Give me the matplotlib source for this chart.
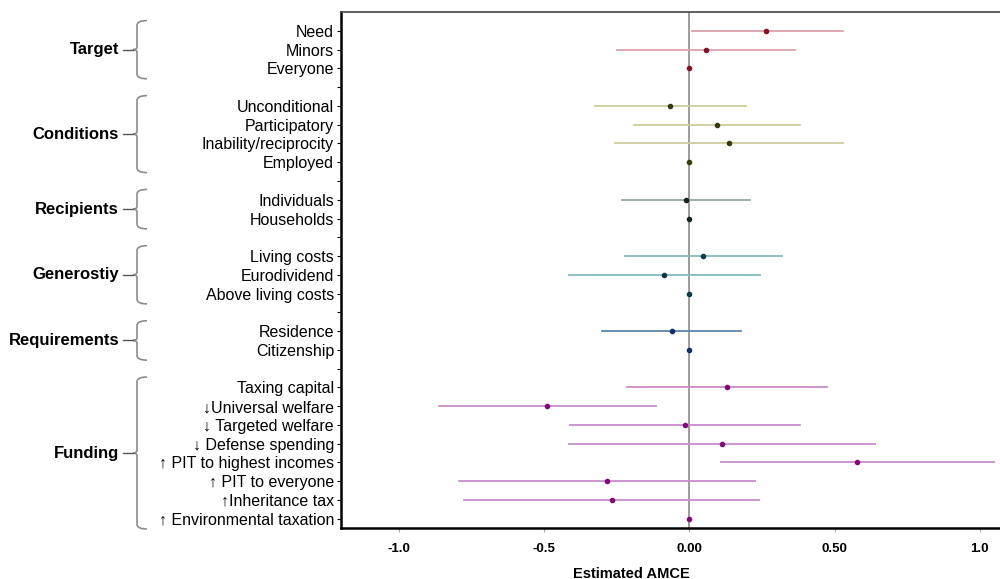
import matplotlib.pyplot as plt
from matplotlib.path import Path
from matplotlib.patches import PathPatch
from matplotlib.transforms import blended_transform_factory

plt.rcParams['font.family'] = ['Liberation Sans', 'DejaVu Sans']

# groups, labels and estimates (AMCE with 95% CI)
groups = ['Target', 'Conditions', 'Recipients', 'Generostiy', 'Requirements', 'Funding']
labels = [
    ['Need', 'Minors', 'Everyone'],
    ['Unconditional', 'Participatory', 'Inability/reciprocity', 'Employed'],
    ['Individuals', 'Households'],
    ['Living costs', 'Eurodividend', 'Above living costs'],
    ['Residence', 'Citizenship'],
    ['Taxing capital', '\u2193Universal welfare', '\u2193 Targeted welfare', '\u2193 Defense spending',
     '\u2191 PIT to highest incomes', '\u2191 PIT to everyone', '\u2191Inheritance tax',
     '\u2191 Environmental taxation'],
]
est = [
    [0.265, 0.057, 0.0],
    [-0.066, 0.096, 0.136, 0.0],
    [-0.011, 0.0],
    [0.048, -0.087, 0.0],
    [-0.060, 0.0],
    [0.131, -0.490, -0.014, 0.111, 0.578, -0.284, -0.268, 0.0],
]
lo = [
    [0.010, -0.249, 0.0],
    [-0.326, -0.190, -0.258, 0.0],
    [-0.232, 0.0],
    [-0.221, -0.416, 0.0],
    [-0.301, 0.0],
    [-0.216, -0.863, -0.412, -0.416, 0.108, -0.793, -0.776, 0.0],
]
hi = [
    [0.530, 0.362, 0.0],
    [0.195, 0.382, 0.529, 0.0],
    [0.210, 0.0],
    [0.318, 0.244, 0.0],
    [0.179, 0.0],
    [0.475, -0.116, 0.382, 0.638, 1.050, 0.226, 0.240, 0.0],
]
line_colors = ['#dba3ad', '#cdcc9e', '#8fa8a2', '#86bcbc', '#5f84ad', '#c98ccb']
dot_colors = ['#8a1025', '#3a3a12', '#142424', '#0c3a48', '#10306a', '#820a78']

fig = plt.figure(figsize=(10, 5.79), dpi=100)
ax = fig.add_axes([0.341, 0.088, 0.662, 0.891])

ticks, ticklabels, spans = [], [], []
pos = 0
for g in range(len(groups)):
    start = pos
    for i in range(len(labels[g])):
        ax.plot([lo[g][i], hi[g][i]], [pos, pos], color=line_colors[g], lw=1.3, zorder=2)
        ax.plot(est[g][i], pos, 'o', color=dot_colors[g], ms=3.0, zorder=3)
        ticks.append(pos)
        ticklabels.append(labels[g][i])
        pos += 1
    spans.append((start, pos - 1))
    if g < len(groups) - 1:
        ticks.append(pos)
        ticklabels.append('')
        pos += 1

ax.axvline(0, color='#8a8a8a', lw=1.2, zorder=1)
ax.set_ylim(pos - 0.5, -1)
ax.set_xlim(-1.2, 1.08)
ax.set_yticks(ticks)
ax.set_yticklabels(ticklabels, fontsize=11.5)
ax.set_xticks([-1.0, -0.5, 0.0, 0.5, 1.0])
ax.set_xticklabels(['-1.0', '-0.5', '0.00', '0.50', '1.0'], fontsize=9.5, fontweight='bold')
ax.tick_params(axis='y', length=3, width=0.8, pad=2)
ax.tick_params(axis='x', length=3, width=0.8, pad=8, color='#aaaaaa')
ax.set_xlabel('Estimated AMCE', fontsize=10.5, fontweight='bold', labelpad=6)
ax.xaxis.set_label_coords(0.438, -0.075)
ax.spines['right'].set_visible(False)
ax.spines['left'].set_linewidth(1.8)
ax.spines['bottom'].set_linewidth(1.8)
ax.spines['top'].set_linewidth(1.2)
ax.spines['top'].set_color('#444444')

# curly brackets and group names on the left
tr = blended_transform_factory(fig.transFigure, ax.transData)
xl, xr, xc = 0.137, 0.147, 0.129
for g, (a, b) in enumerate(spans):
    top, bot = a - 0.55, b + 0.55
    mid = (top + bot) / 2
    verts = [(xr, top), (xl, top), (xl, top + 0.25),
             (xl, mid - 0.15), (xl, mid), (xc + 0.004, mid),
             (xl, mid), (xl, mid + 0.15),
             (xl, bot - 0.25), (xl, bot), (xr, bot)]
    codes = [Path.MOVETO, Path.CURVE3, Path.CURVE3,
             Path.LINETO, Path.CURVE3, Path.CURVE3,
             Path.CURVE3, Path.CURVE3,
             Path.LINETO, Path.CURVE3, Path.CURVE3]
    patch = PathPatch(Path(verts, codes), transform=tr, fill=False,
                      edgecolor='#8c8c8c', lw=1.2, clip_on=False)
    fig.add_artist(patch)
    fig.add_artist(plt.Line2D([xc - 0.006, xc + 0.004], [mid, mid], transform=tr,
                              color='#555555', lw=1.0))
    fig.text(xc - 0.01, mid, groups[g], transform=tr, ha='right', va='center',
             fontsize=12, fontweight='bold')

fig.savefig('out.png', dpi=100)
